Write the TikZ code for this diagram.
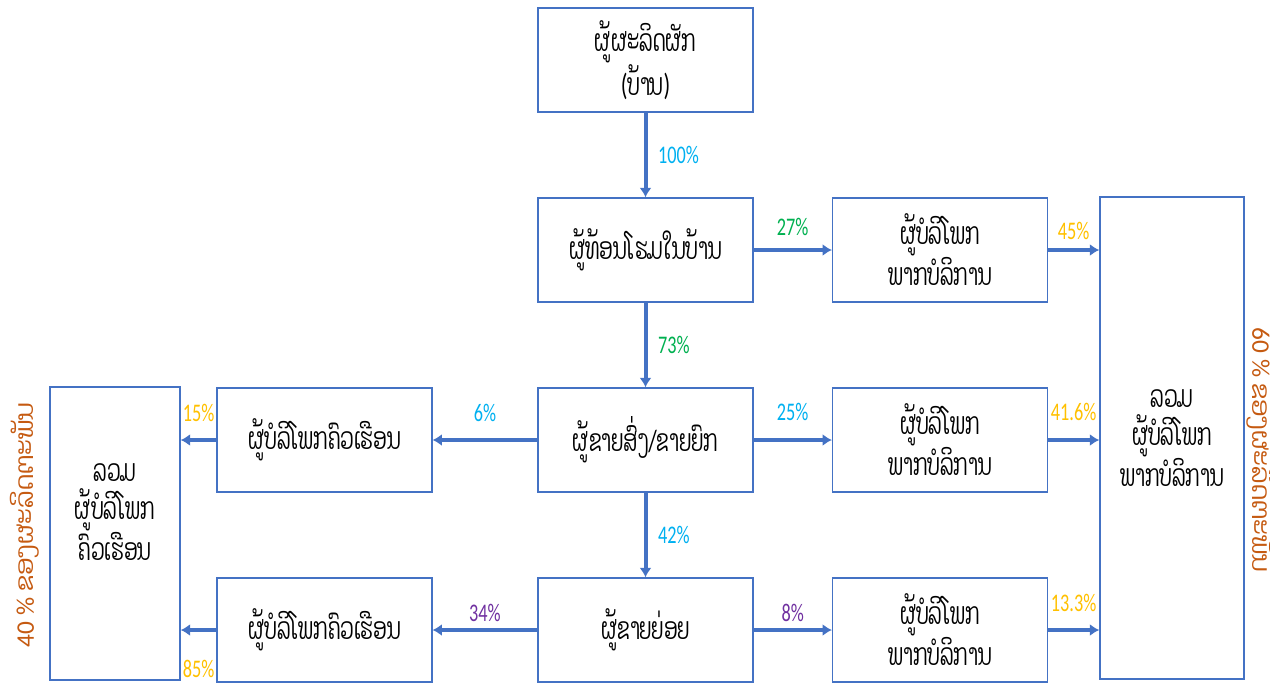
\documentclass[tikz,border=0pt]{standalone}
\usepackage{fontspec}
\setmainfont{Carlito}
\newfontfamily\laofont[Script=Lao, FakeStretch=0.64]{Dhyana}
\newfontfamily\laowide[Script=Lao]{Dhyana}
\newfontfamily\pctfont[FakeStretch=0.72]{Carlito}
\usetikzlibrary{arrows.meta}
\tikzset{>={Latex[width=9pt,length=7pt]}}
\definecolor{boxblue}{HTML}{4472C4}
\definecolor{pcyan}{HTML}{00B0F0}
\definecolor{pgreen}{HTML}{00B050}
\definecolor{pgold}{HTML}{FFC000}
\definecolor{ppurple}{HTML}{7030A0}
\definecolor{sidebrown}{HTML}{C55A11}

\begin{document}
\begin{tikzpicture}[
    x = 0.75pt, y = -0.75pt,
    boxtext/.style = {align=center, inner sep=0pt,
        font=\laofont\fontsize{23}{28}\selectfont},
    box/.style = {draw=boxblue, line width=1.1pt, fill=white, boxtext,
        minimum width=161pt, minimum height=78pt},
    flow/.style = {->, draw=boxblue, line width=3pt},
    pct/.style = {font=\pctfont\fontsize{19}{20}\selectfont, inner sep=1pt},
    side/.style = {text=sidebrown, font=\fontsize{19}{22}\selectfont}
  ]
  \useasboundingbox (0,0) rectangle (1270,683);

  \node[box] (prod) at (645.5,60) {ຜູ້ຜະລິດຜັກ\\{\pctfont(}ບ້ານ{\pctfont)}};
  \node[box] (coll) at (645.5,250) {ຜູ້ທ້ອນໂຮມໃນບ້ານ};
  \node[box] (whole) at (645.5,440) {ຜູ້ຂາຍສົ່ງ{\pctfont/}ຂາຍຍົກ};
  \node[box] (retail) at (645.5,630) {ຜູ້ຂາຍຍ່ອຍ};
  \node[box] (home1) at (324.5,440) {ຜູ້ບໍລິໂພກຄົວເຮືອນ};
  \node[box] (home2) at (324.5,630) {ຜູ້ບໍລິໂພກຄົວເຮືອນ};
  \foreach \y/\n in {250/1,440/2,630/3}
    \node[box] (serv\n) at (940,\y) {ຜູ້ບໍລິໂພກ\\ພາກບໍລິການ};
  \node[box, minimum width=97.5pt, minimum height=220pt,
    label={[boxtext, yshift=16pt]center:{ລວມ\\ຜູ້ບໍລິໂພກ\\ຄົວເຮືອນ}}]
    (homeall) at (115,533.5) {};
  \node[box, minimum width=108pt, minimum height=361.5pt] (servall) at (1172,438)
    {ລວມ\\ຜູ້ບໍລິໂພກ\\ພາກບໍລິການ};

  \draw[flow] (prod) -- node[pct, right=7pt, text=pcyan] {100\%} (coll);
  \draw[flow] (coll) -- node[pct, right=7pt, text=pgreen] {73\%} (whole);
  \draw[flow] (whole) -- node[pct, right=7pt, text=pcyan] {42\%} (retail);
  \draw[flow] (coll) -- node[pct, above=8pt, text=pgreen] {27\%} (serv1);
  \draw[flow] (whole) -- node[pct, above=12pt, text=pcyan] {25\%} (serv2);
  \draw[flow] (retail) -- node[pct, above=4pt, text=ppurple] {8\%} (serv3);
  \draw[flow] (whole) -- node[pct, above=11pt, text=pcyan] {6\%} (home1);
  \draw[flow] (retail) -- node[pct, above=4pt, text=ppurple] {34\%} (home2);
  \draw[flow] (home1.west) -- node[pct, above=11pt, text=pgold] {15\%}
    (home1.west -| homeall.east);
  \draw[flow] (home2.west) -- node[pct, below=20pt, text=pgold] {85\%}
    (home2.west -| homeall.east);
  \foreach \n/\p/\d in {1/45/5pt,2/41.6/12pt,3/13.3/11pt}
    \draw[flow] (serv\n.east) -- node[pct, above=\d, text=pgold] {\p\%}
      (serv\n.east -| servall.west);

  \node[side, rotate=90] (shareL) at (25,525) {40 \% {\laowide ຂອງຜະລິດຕະພັນ}};
  \node[side, rotate=-90] (shareR) at (1261,450) {60 \% {\laowide ຂອງຜະລິດຕະພັນ}};
\end{tikzpicture}
\end{document}
